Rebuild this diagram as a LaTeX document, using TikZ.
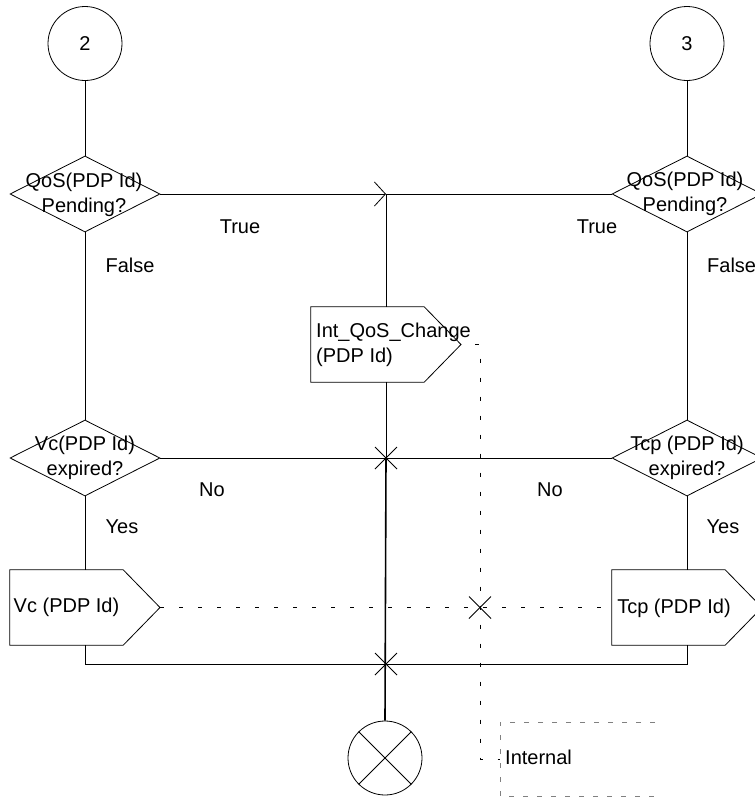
\documentclass[tikz,border=0pt]{standalone}
\usepackage{fontspec}
\setmainfont{Liberation Sans}
\usetikzlibrary{shapes.geometric,arrows.meta}
\begin{document}
\begin{tikzpicture}[x=1pt,y=-1pt,
  ln/.style={line width=0.8pt},
  thick line/.style={line width=1.6pt},
  conn/.style={circle,draw,line width=0.8pt,minimum size=74pt,inner sep=0pt},
  dec/.style={diamond,draw,line width=0.8pt,minimum width=150pt,minimum height=76pt,inner sep=0pt},
  txt/.style={inner sep=0pt,align=center,font=\fontsize{20}{25}\selectfont},
  outbox/.style={rectangle,minimum width=113pt,minimum height=75pt,inner sep=0pt,font=\fontsize{20}{25}\selectfont},
  sig/.style={dash pattern=on 4pt off 15pt,line width=0.8pt},
  cmt/.style={gray,dash pattern=on 5pt off 9pt,line width=0.8pt}
]
\useasboundingbox (0,0) rectangle (755,798);

% connectors (top)
\node[conn,font=\fontsize{20}{25}\selectfont] (c2) at (85,43.5) {2};
\node[conn,font=\fontsize{20}{25}\selectfont] (c3) at (687,43.5) {3};

% decisions
\node[dec] (q1) at (85,194) {};
\node[dec] (q2) at (687,194) {};
\node[dec] (v1) at (85,458) {};
\node[dec] (t2) at (687,458) {};
\node[txt] (q1t) at (84,195) {QoS(PDP Id)\\Pending?};
\node[txt] (q2t) at (685,194) {QoS(PDP Id)\\Pending?};
\node[txt] (v1t) at (85,458) {Vc(PDP Id)\\expired?};
\node[txt] (t2t) at (687,458) {Tcp (PDP Id)\\expired?};

% output signals
\node[outbox] (vc) at (66.5,607.5) {Vc (PDP Id)};
\coordinate (vctip) at (160,607.5);
\draw[ln] (vc.north west) -- (vc.north east) -- (vctip) -- (vc.south east) -- (vc.south west) -- cycle;

\node[outbox] (tcp) at (668.5,607.5) {};
\coordinate (tcptip) at (762,607.5);
\draw[ln] (tcp.north west) -- (tcp.north east) -- (tcptip) -- (tcp.south east) -- (tcp.south west) -- cycle;
\node[txt] (tcpt) at (674,608) {Tcp (PDP Id)};

\node[outbox] (ib) at (367.5,344.5) {};
\coordinate (ibtip) at (461,344.5);
\draw[ln] (ib.north west) -- (ib.north east) -- (ibtip) -- (ib.south east) -- (ib.south west) -- cycle;
\node[txt,align=left,anchor=west] (ibt) at (316,345) {Int\_QoS\_Change\\(PDP Id)};

% stop symbol
\node[conn] (ex) at (385,758) {};
\draw[ln] (ex.north west) -- (ex.south east);
\draw[ln] (ex.north east) -- (ex.south west);

% junction coordinates
\coordinate (jt) at (386,194);
\coordinate (jn) at (386,458);
\coordinate (jb) at (386,664);
\coordinate (jd) at (480,607.5);

% flow lines
\draw[ln] (c2.south) -- (q1.north);
\draw[ln] (c3.south) -- (q2.north);
\draw[ln] (q1.south) -- (v1.north);
\draw[ln] (q2.south) -- (t2.north);
\draw[ln] (v1.south) -- (v1.south |- vc.north);
\draw[ln] (t2.south) -- (t2.south |- tcp.north);
\draw[ln] (v1.south |- vc.south) -- (v1.south |- jb) -- (t2.south |- jb) -- (t2.south |- tcp.south);
\draw[ln,-{Straight Barb[length=11pt,width=24pt]}] (q1.east) -- (jt);
\draw[ln] (q2.west) -- (jt) -- (jt |- ib.north);
\draw[ln] (v1.east) -- (t2.west);
\draw[ln] (jt |- ib.south) -- (jn);
\draw[thick line] (jn) -- (ex.north);

% crossing marks
\draw[ln] (jn) ++(-11,-11) -- ++(22,22);
\draw[ln] (jn) ++(-11,11) -- ++(22,-22);
\draw[ln] (jb) ++(-11,-11) -- ++(22,22);
\draw[ln] (jb) ++(-11,11) -- ++(22,-22);
\draw[ln] (jd) ++(-11,-11) -- ++(22,22);
\draw[ln] (jd) ++(-11,11) -- ++(22,-22);

% signal routes (dashed)
\draw[sig] (vctip) -- (tcp.west);
\coordinate (dk) at (480,344.5);
\coordinate (cm) at (500,759);
\draw[sig,dash phase=5pt] (ibtip) -- (dk) -- (dk |- cm) -- (cm);

% comment
\coordinate (cmA) at (655,722);
\coordinate (cmB) at (500,722);
\coordinate (cmC) at (500,796);
\coordinate (cmD) at (655,796);
\draw[cmt] (cmA) -- (cmB) -- (cmC) -- (cmD);
\node[txt,anchor=west] (cmt) at (505,757) {Internal};

% branch labels
\node[txt] (lt1) at (240,227) {True};
\node[txt] (lt2) at (597,227) {True};
\node[txt] (lf1) at (130,265) {False};
\node[txt,anchor=west] (lf2) at (707,265) {False};
\node[txt] (ln1) at (212,490) {No};
\node[txt] (ln2) at (550,490) {No};
\node[txt] (ly1) at (122,527) {Yes};
\node[txt] (ly2) at (723,527) {Yes};
\end{tikzpicture}
\end{document}
